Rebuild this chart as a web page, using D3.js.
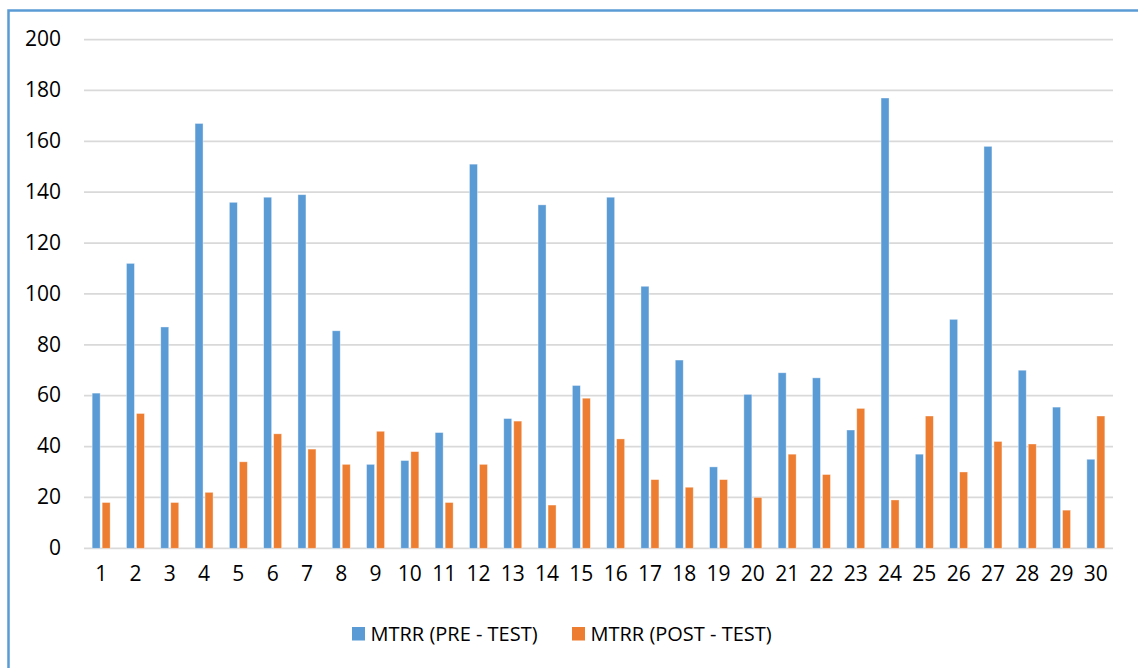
<!DOCTYPE html>
<html>
<head>
<meta charset="utf-8">
<script src="https://cdn.jsdelivr.net/npm/d3@7"></script>
<style>
  html, body { margin: 0; padding: 0; background: #ffffff; }
  svg { display: block; }
  text { font-family: "Open Sans", "Noto Sans", sans-serif; fill: #000; }
</style>
</head>
<body>
<svg id="chart" width="1138" height="668"></svg>
<script>
// Test subjects 1..30
const categories = d3.range(1, 31).map(String);
// MTRR values before and after the intervention
const preTest  = [61, 112, 87, 167, 136, 138, 139, 85.5, 33, 34.5, 45.5, 151, 51, 135, 64, 138, 103, 74, 32, 60.5, 69, 67, 46.5, 177, 37, 90, 158, 70, 55.5, 35];
const postTest = [18, 53, 18, 22, 34, 45, 39, 33, 46, 38, 18, 33, 50, 17, 59, 43, 27, 24, 27, 20, 37, 29, 55, 19, 52, 30, 42, 41, 15, 52];
const seriesNames = ["MTRR (PRE - TEST)", "MTRR (POST - TEST)"];
const seriesColors = ["#5b9bd5", "#ed7d31"];
const yTicks = [0, 20, 40, 60, 80, 100, 120, 140, 160, 180, 200];

const svg = d3.select("#chart");

// chart-area frame (runs off the right and bottom edges)
svg.append("rect")
  .attr("x", 8.5).attr("y", 10.5)
  .attr("width", 1160).attr("height", 700)
  .attr("fill", "none")
  .attr("stroke", "#5b9bd5")
  .attr("stroke-width", 2.5);

const plot = { left: 84, right: 1113, top: 39.5, bottom: 548.3 };

const x0 = d3.scaleBand().domain(categories).range([plot.left, plot.right]).padding(0);
const cw = x0.bandwidth();
const x1 = d3.scaleBand().domain(seriesNames)
  .range([cw / 2 - 9, cw / 2 + 9]).paddingInner(0.2).paddingOuter(0);
const y = d3.scaleLinear().domain([0, 200]).range([plot.bottom, plot.top]);

// horizontal gridlines
svg.append("g")
  .selectAll("line")
  .data(yTicks)
  .join("line")
  .attr("x1", plot.left).attr("x2", plot.right)
  .attr("y1", d => y(d)).attr("y2", d => y(d))
  .attr("stroke", "#d9d9d9")
  .attr("stroke-width", 1.75);

// y-axis labels
const yAxis = d3.axisLeft(y).tickValues(yTicks).tickSize(0).tickPadding(0);
const gy = svg.append("g").attr("transform", "translate(61,0)").call(yAxis);
gy.select(".domain").remove();
gy.selectAll("text")
  .attr("font-family", "Open Sans, Noto Sans, sans-serif")
  .attr("font-size", 21)
  .attr("fill", "#000")
  .attr("dy", "0.3em");

// x-axis labels
const xAxis = d3.axisBottom(x0).tickSize(0).tickPadding(0);
const gx = svg.append("g").attr("transform", `translate(0,${plot.bottom})`).call(xAxis);
gx.select(".domain").remove();
gx.selectAll("text")
  .attr("font-family", "Open Sans, Noto Sans, sans-serif")
  .attr("font-size", 21)
  .attr("fill", "#000")
  .attr("dy", "1.55em");

// grouped bars
const rows = categories.map((c, i) => ({ c, vals: [preTest[i], postTest[i]] }));
const groups = svg.append("g")
  .selectAll("g")
  .data(rows)
  .join("g")
  .attr("transform", d => `translate(${x0(d.c)},0)`);

groups.selectAll("rect")
  .data(d => d.vals.map((v, k) => ({ name: seriesNames[k], v, k })))
  .join("rect")
  .attr("x", d => x1(d.name))
  .attr("width", x1.bandwidth())
  .attr("y", d => y(d.v))
  .attr("height", d => y(0) - y(d.v))
  .attr("fill", d => seriesColors[d.k])
  .attr("stroke", "#ffffff")
  .attr("stroke-opacity", 0.5)
  .attr("stroke-width", 0.75);

// legend
const legendItems = [
  { name: seriesNames[0], color: seriesColors[0], x: 352 },
  { name: seriesNames[1], color: seriesColors[1], x: 572 }
];
const lg = svg.append("g");
const li = lg.selectAll("g").data(legendItems).join("g")
  .attr("transform", d => `translate(${d.x},627)`);
li.append("rect")
  .attr("width", 13).attr("height", 13.5)
  .attr("fill", d => d.color);
li.append("text")
  .attr("x", 18.5).attr("y", 13.8)
  .attr("font-size", 20)
  .text(d => d.name);
</script>
</body>
</html>
